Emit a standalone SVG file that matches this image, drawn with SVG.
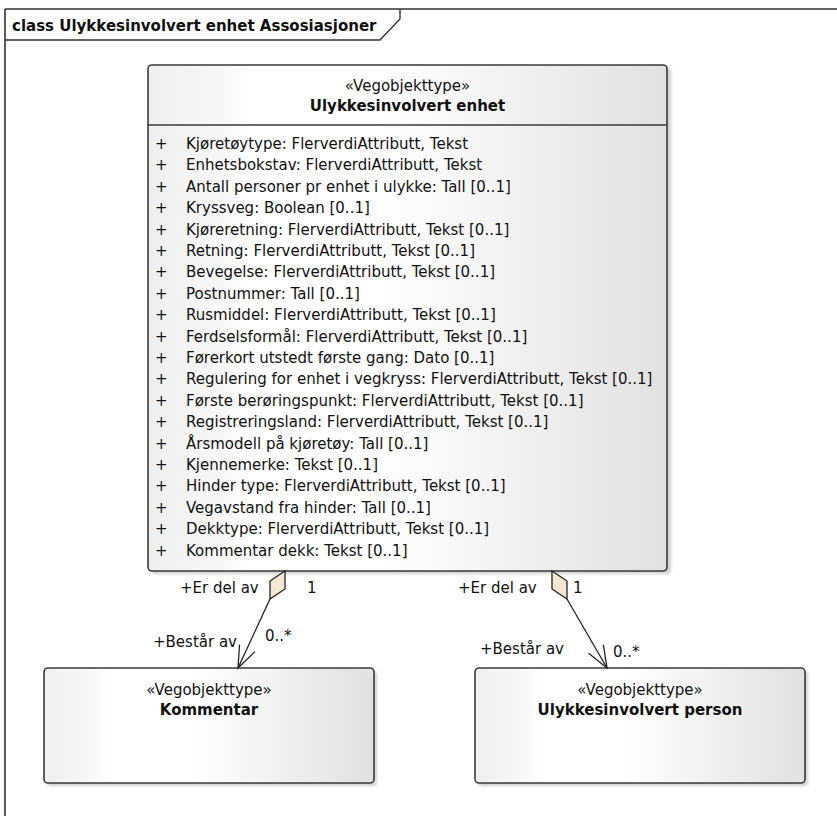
<svg xmlns="http://www.w3.org/2000/svg" width="837" height="816" viewBox="0 0 837 816">
<style>
text{font-family:"DejaVu Sans","Liberation Sans",sans-serif;font-size:15px;fill:#111}
.b{font-weight:bold}
.c{text-anchor:middle}
.box{fill:url(#g);stroke:#3a3a3a;stroke-width:1.6}
.sh{fill:#000;opacity:0.18;filter:url(#blur)}
.ln{stroke:#222;stroke-width:1.3;fill:none}
.dia{fill:#f5e7d2;stroke:#222;stroke-width:1.3;stroke-linejoin:miter}
</style>
<defs>
<linearGradient id="g" x1="0" y1="0" x2="1" y2="0">
<stop offset="0" stop-color="#efefef"/>
<stop offset="0.15" stop-color="#f8f8f8"/>
<stop offset="0.2" stop-color="#ffffff"/>
<stop offset="0.45" stop-color="#ffffff"/>
<stop offset="1" stop-color="#e1e1e1"/>
</linearGradient>
<filter id="blur" x="-5%" y="-5%" width="110%" height="110%"><feGaussianBlur stdDeviation="1.5"/></filter>
<marker id="arr" markerUnits="userSpaceOnUse" markerWidth="30" markerHeight="24" refX="0" refY="0" viewBox="-26 -12 28 24" orient="auto">
<path d="M-22,-8.5 L0,0 L-22,8.5" fill="none" stroke="#222" stroke-width="1.3"/>
</marker>
</defs>
<rect width="837" height="816" fill="#fff"/>
<g id="frame">
<path d="M5,9 L845,9 M5,9 L5,825" stroke="#333" stroke-width="1.6" fill="none"/>
<path d="M5,40 L380,40 L400,19 L400,9" stroke="#333" stroke-width="1.4" fill="none"/>
<text class="b" x="12" y="31">class Ulykkesinvolvert enhet Assosiasjoner</text>
</g>
<g id="enhet">
<rect class="sh" x="151" y="68" width="520" height="506" rx="4"/>
<rect class="box" x="148" y="65" width="519" height="506" rx="4"/>
<line x1="148" y1="125" x2="667" y2="125" stroke="#3a3a3a" stroke-width="1.6"/>
<text class="c" x="407.5" y="91">«Vegobjekttype»</text>
<text class="c b" x="407.5" y="111">Ulykkesinvolvert enhet</text>
<g>
<text x="155" y="149">+</text><text x="186" y="149">Kjøretøytype: FlerverdiAttributt, Tekst</text>
<text x="155" y="170.4">+</text><text x="186" y="170.4">Enhetsbokstav: FlerverdiAttributt, Tekst</text>
<text x="155" y="191.8">+</text><text x="186" y="191.8">Antall personer pr enhet i ulykke: Tall [0..1]</text>
<text x="155" y="213.2">+</text><text x="186" y="213.2">Kryssveg: Boolean [0..1]</text>
<text x="155" y="234.6">+</text><text x="186" y="234.6">Kjøreretning: FlerverdiAttributt, Tekst [0..1]</text>
<text x="155" y="256">+</text><text x="186" y="256">Retning: FlerverdiAttributt, Tekst [0..1]</text>
<text x="155" y="277.4">+</text><text x="186" y="277.4">Bevegelse: FlerverdiAttributt, Tekst [0..1]</text>
<text x="155" y="298.8">+</text><text x="186" y="298.8">Postnummer: Tall [0..1]</text>
<text x="155" y="320.2">+</text><text x="186" y="320.2">Rusmiddel: FlerverdiAttributt, Tekst [0..1]</text>
<text x="155" y="341.6">+</text><text x="186" y="341.6">Ferdselsformål: FlerverdiAttributt, Tekst [0..1]</text>
<text x="155" y="363">+</text><text x="186" y="363">Førerkort utstedt første gang: Dato [0..1]</text>
<text x="155" y="384.4">+</text><text x="186" y="384.4">Regulering for enhet i vegkryss: FlerverdiAttributt, Tekst [0..1]</text>
<text x="155" y="405.8">+</text><text x="186" y="405.8">Første berøringspunkt: FlerverdiAttributt, Tekst [0..1]</text>
<text x="155" y="427.2">+</text><text x="186" y="427.2">Registreringsland: FlerverdiAttributt, Tekst [0..1]</text>
<text x="155" y="448.6">+</text><text x="186" y="448.6">Årsmodell på kjøretøy: Tall [0..1]</text>
<text x="155" y="470">+</text><text x="186" y="470">Kjennemerke: Tekst [0..1]</text>
<text x="155" y="491.4">+</text><text x="186" y="491.4">Hinder type: FlerverdiAttributt, Tekst [0..1]</text>
<text x="155" y="512.8">+</text><text x="186" y="512.8">Vegavstand fra hinder: Tall [0..1]</text>
<text x="155" y="534.2">+</text><text x="186" y="534.2">Dekktype: FlerverdiAttributt, Tekst [0..1]</text>
<text x="155" y="555.6">+</text><text x="186" y="555.6">Kommentar dekk: Tekst [0..1]</text>
</g>
</g>
<g id="kommentar">
<rect class="sh" x="47" y="671" width="330" height="115" rx="4"/>
<rect class="box" x="44" y="668" width="330" height="115" rx="4"/>
<text class="c" x="209" y="695">«Vegobjekttype»</text>
<text class="c b" x="209" y="715">Kommentar</text>
</g>
<g id="person">
<rect class="sh" x="478" y="671" width="330" height="115" rx="4"/>
<rect class="box" x="475" y="668" width="330" height="115" rx="4"/>
<text class="c" x="640" y="695">«Vegobjekttype»</text>
<text class="c b" x="640" y="715">Ulykkesinvolvert person</text>
</g>
<g id="connectors">
<line class="ln" x1="270" y1="599" x2="238" y2="668" marker-end="url(#arr)"/>
<path class="dia" d="M285,571 L285,589 L270,599 L270,581 Z"/>
<line class="ln" x1="567" y1="599" x2="607" y2="668" marker-end="url(#arr)"/>
<path class="dia" d="M552,571 L567,581 L567,599 L552,589 Z"/>
<text x="180" y="593">+Er del av</text>
<text x="307" y="593">1</text>
<text x="153" y="647">+Består av</text>
<text x="265" y="641">0..*</text>
<text x="458" y="593">+Er del av</text>
<text x="573" y="593">1</text>
<text x="480" y="654">+Består av</text>
<text x="613" y="657">0..*</text>
</g>
</svg>
